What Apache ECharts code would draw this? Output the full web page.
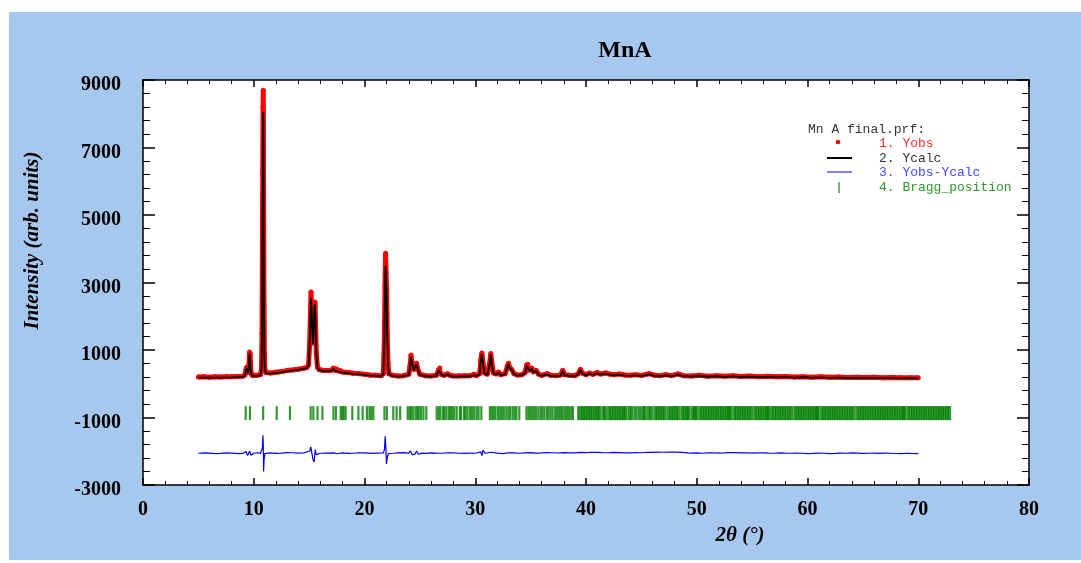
<!DOCTYPE html>
<html>
<head>
<meta charset="utf-8">
<script src="https://cdn.jsdelivr.net/npm/echarts@6/dist/echarts.min.js"></script>
<style>
  html, body { margin: 0; padding: 0; background: #fff; }
  #panel { position: absolute; left: 9px; top: 12px; width: 1072px; height: 548px; background: #a6c8ee; }
  #chart { position: absolute; left: 0; top: 0; width: 1081px; height: 563px; }
</style>
</head>
<body>
<div id="panel"></div>
<div id="chart"></div>
<script>
// observed profile, [2theta, intensity]
const yobs = [
  [5.0,200],[5.5,210],[6.0,195],[6.5,205],[7.0,200],[7.5,210],[8.0,205],[8.5,215],[9.0,225],[9.2,260],
  [9.3,420],[9.38,500],[9.45,330],[9.55,420],[9.62,940],[9.68,880],[9.75,330],[9.85,250],[10.0,240],[10.3,250],
  [10.6,270],[10.7,420],[10.75,1500],[10.78,3900],[10.81,6200],[10.84,8200],[10.86,8700],[10.88,7000],[10.9,4600],[10.93,2300],
  [10.96,900],[11.0,420],[11.1,330],[11.5,320],[12.0,340],[12.5,360],[13.0,390],[13.5,410],[14.0,430],[14.5,460],
  [14.8,480],[14.95,560],[15.05,1200],[15.12,2100],[15.17,2720],[15.22,2300],[15.3,1500],[15.36,1200],[15.42,1700],[15.48,2350],
  [15.53,2420],[15.58,1800],[15.65,900],[15.75,500],[15.9,420],[16.2,400],[16.6,390],[17.0,400],[17.2,470],[17.35,400],
  [17.5,440],[17.65,380],[17.8,390],[18.0,350],[18.3,340],[18.6,330],[19.0,310],[19.5,300],[20.0,280],[20.5,260],
  [21.0,250],[21.5,240],[21.7,300],[21.8,1400],[21.85,2900],[21.9,3870],[21.95,3300],[22.0,2800],[22.05,1500],[22.12,600],
  [22.2,300],[22.5,250],[23.0,230],[23.5,240],[24.0,280],[24.1,500],[24.2,850],[24.3,620],[24.45,420],[24.6,480],
  [24.7,610],[24.8,450],[25.0,280],[25.5,240],[26.0,230],[26.5,250],[26.7,420],[26.8,470],[26.95,280],[27.2,250],
  [27.5,300],[27.7,250],[28.0,230],[28.5,230],[29.0,240],[29.5,235],[29.9,280],[30.1,240],[30.4,300],[30.5,700],
  [30.6,910],[30.7,620],[30.85,320],[31.1,280],[31.3,600],[31.4,900],[31.5,600],[31.65,320],[31.9,290],[32.1,350],
  [32.3,270],[32.7,300],[32.9,520],[33.0,610],[33.1,480],[33.3,420],[33.5,300],[33.8,260],[34.2,270],[34.5,330],
  [34.65,560],[34.75,580],[34.9,400],[35.1,470],[35.25,350],[35.5,400],[35.7,290],[36.0,250],[36.5,300],[36.8,250],
  [37.3,240],[37.7,260],[37.9,400],[38.05,270],[38.5,250],[39.0,240],[39.3,300],[39.5,430],[39.65,320],[40.0,270],
  [40.3,320],[40.6,280],[41.0,330],[41.3,290],[41.8,320],[42.2,280],[42.6,270],[43.0,290],[43.5,260],[44.0,250],
  [44.5,270],[45.0,245],[45.7,300],[46.2,250],[46.7,240],[47.2,270],[47.7,240],[48.3,290],[48.8,240],[49.5,230],
  [50.2,250],[51.0,225],[51.8,240],[52.5,220],[53.3,235],[54.0,215],[54.8,230],[55.6,210],[56.4,225],[57.2,205],
  [58.0,215],[58.8,200],[59.6,210],[60.4,195],[61.2,205],[62.0,190],[62.8,200],[63.6,185],[64.4,195],[65.2,185],
  [66.0,190],[66.8,180],[67.6,185],[68.4,175],[69.2,180],[70.0,175]
];

// calculated profile
const ycalc = [
  [5.0,180],[6.0,180],[7.0,182],[8.0,188],[9.0,205],[9.2,240],[9.3,390],[9.38,470],[9.45,320],[9.55,400],
  [9.62,900],[9.68,860],[9.75,320],[9.85,235],[10.0,225],[10.3,232],[10.6,250],[10.7,400],[10.75,1450],[10.78,3800],
  [10.81,6000],[10.84,7900],[10.86,8050],[10.88,6800],[10.9,4500],[10.93,2250],[10.96,880],[11.0,400],[11.1,310],[11.5,300],
  [12.0,318],[12.5,340],[13.0,368],[13.5,390],[14.0,410],[14.5,438],[14.8,460],[14.95,540],[15.05,1150],[15.12,2000],
  [15.17,2550],[15.22,2250],[15.3,1480],[15.36,1180],[15.42,1650],[15.48,2250],[15.53,2350],[15.58,1750],[15.65,880],[15.75,480],
  [15.9,400],[16.2,380],[16.6,372],[17.0,380],[17.2,445],[17.35,380],[17.5,415],[17.65,360],[17.8,365],[18.0,330],
  [18.3,320],[18.6,310],[19.0,290],[19.5,280],[20.0,262],[20.5,242],[21.0,232],[21.5,222],[21.7,280],[21.8,1350],
  [21.85,2800],[21.9,3500],[21.95,3200],[22.0,2650],[22.05,1450],[22.12,580],[22.2,282],[22.5,232],[23.0,212],[23.5,222],
  [24.0,262],[24.1,470],[24.2,800],[24.3,600],[24.45,400],[24.6,455],[24.7,580],[24.8,430],[25.0,262],[25.5,222],
  [26.0,212],[26.5,232],[26.7,400],[26.8,445],[26.95,262],[27.2,232],[27.5,280],[27.7,232],[28.0,212],[28.5,212],
  [29.0,220],[29.5,215],[29.9,258],[30.1,222],[30.4,280],[30.5,670],[30.6,880],[30.7,600],[30.85,300],[31.1,262],
  [31.3,580],[31.4,870],[31.5,580],[31.65,300],[31.9,270],[32.1,330],[32.3,252],[32.7,280],[32.9,500],[33.0,585],
  [33.1,460],[33.3,400],[33.5,282],[33.8,242],[34.2,252],[34.5,310],[34.65,535],[34.75,560],[34.9,385],[35.1,450],
  [35.25,332],[35.5,380],[35.7,272],[36.0,232],[36.5,280],[36.8,232],[37.3,222],[37.7,242],[37.9,380],[38.05,252],
  [38.5,232],[39.0,222],[39.3,280],[39.5,410],[39.65,300],[40.0,250],[40.3,300],[40.6,262],[41.0,310],[41.3,272],
  [41.8,300],[42.2,262],[42.6,252],[43.0,270],[43.5,242],[44.0,232],[44.5,250],[45.0,228],[45.7,280],[46.2,232],
  [46.7,222],[47.2,250],[47.7,222],[48.3,268],[48.8,222],[49.5,212],[50.2,230],[51.0,208],[51.8,222],[52.5,202],
  [53.3,216],[54.0,198],[54.8,212],[55.6,194],[56.4,206],[57.2,188],[58.0,196],[58.8,184],[59.6,192],[60.4,178],
  [61.2,186],[62.0,174],[62.8,182],[63.6,170],[64.4,176],[65.2,168],[66.0,172],[66.8,164],[67.6,168],[68.4,160],
  [69.2,164],[70.0,160]
];

// Yobs-Ycalc, already shifted down as in the plot
const ydiff = [
  [5.0,-2060],[5.6,-2050],[6.0,-2055],[6.6,-2070],[7.0,-2065],[7.6,-2050],[8.0,-2055],[8.6,-2068],[9.0,-2065],[9.3,-2010],
  [9.45,-2130],[9.62,-1990],[9.75,-2120],[10.0,-2060],[10.3,-2045],[10.6,-2065],[10.78,-1900],[10.83,-1530],[10.86,-1800],[10.89,-2600],
  [10.93,-2250],[11.0,-2070],[11.5,-2050],[12.0,-2062],[12.5,-2055],[13.0,-2040],[13.5,-2045],[14.0,-2058],[14.5,-2050],[15.05,-2000],
  [15.15,-1870],[15.25,-1900],[15.35,-2250],[15.45,-2320],[15.55,-1950],[15.65,-2100],[16.0,-2060],[16.5,-2055],[17.2,-2050],[17.5,-2075],
  [18.0,-2050],[18.5,-2065],[19.0,-2060],[19.5,-2045],[20.0,-2050],[20.5,-2062],[21.0,-2055],[21.7,-2050],[21.8,-1950],[21.87,-1560],
  [21.93,-1900],[21.98,-2380],[22.05,-2200],[22.15,-2070],[22.6,-2060],[23.0,-2050],[23.5,-2040],[24.0,-2055],[24.15,-1990],[24.3,-2100],
  [24.55,-2090],[24.7,-1990],[24.85,-2090],[25.2,-2055],[25.6,-2065],[26.0,-2050],[26.5,-2058],[27.0,-2060],[27.5,-2045],[28.0,-2050],
  [28.5,-2060],[29.0,-2065],[29.5,-2055],[30.0,-2060],[30.5,-2020],[30.6,-2130],[30.7,-1970],[30.9,-2060],[31.4,-2030],[31.55,-2080],
  [32.0,-2055],[32.5,-2068],[33.0,-2045],[33.5,-2050],[34.0,-2060],[34.5,-2048],[35.0,-2040],[35.5,-2055],[36.0,-2050],[36.5,-2038],
  [37.0,-2045],[37.5,-2052],[38.0,-2040],[38.5,-2046],[39.0,-2050],[39.5,-2036],[40.0,-2040],[40.5,-2030],[41.0,-2035],[41.5,-2042],
  [42.0,-2045],[42.5,-2032],[43.0,-2040],[43.5,-2048],[44.0,-2050],[44.5,-2040],[45.0,-2045],[45.5,-2030],[46.0,-2035],[46.5,-2025],
  [47.0,-2030],[47.5,-2022],[48.0,-2025],[48.7,-2035],[49.2,-2050],[49.5,-2055],[50.0,-2048],[50.5,-2060],[51.0,-2050],[51.5,-2045],
  [52.0,-2055],[52.5,-2050],[53.0,-2042],[53.5,-2040],[54.0,-2050],[54.5,-2045],[55.0,-2055],[55.5,-2050],[56.0,-2046],[56.5,-2055],
  [57.0,-2060],[57.5,-2050],[58.0,-2056],[58.5,-2060],[59.0,-2052],[59.5,-2060],[60.0,-2068],[60.5,-2065],[61.0,-2058],[61.5,-2060],
  [62.0,-2070],[62.5,-2065],[63.0,-2058],[63.5,-2060],[64.0,-2050],[64.5,-2055],[65.0,-2062],[65.5,-2060],[66.0,-2055],[66.5,-2065],
  [67.0,-2058],[67.5,-2060],[68.0,-2066],[68.5,-2070],[69.0,-2060],[69.3,-2065],[70.0,-2070]
];

// Bragg reflection positions (2theta)
const braggPos = [
  9.27, 9.66, 10.85, 12.07, 13.27, 15.14, 15.38, 15.76, 16.2, 17.2, 17.42, 17.85, 18.0, 18.12, 18.3, 18.9, 19.45, 19.83,
  20.22, 20.45, 20.62, 20.8, 21.8, 22.02, 22.6, 22.9, 23.22, 23.9, 24.08, 24.22, 24.4, 24.62, 24.78, 24.9, 25.1, 25.32,
  25.58, 26.52, 26.7, 26.86, 27.1, 27.22, 27.4, 27.62, 27.78, 27.92, 28.1, 28.32, 28.6, 28.72, 28.98, 29.12, 29.3, 29.52,
  29.7, 29.9, 30.12, 30.3, 30.55, 31.32, 31.5, 31.66, 31.82, 32.04, 32.22, 32.4, 32.58, 32.8, 33.0, 33.16, 33.38, 33.56,
  33.72, 33.98, 34.62, 34.8, 34.96, 35.14, 35.32, 35.5, 35.7, 35.9, 36.06, 36.24, 36.46, 36.62, 36.8, 36.98, 37.2, 37.38,
  37.56, 37.74, 37.9, 38.1, 38.28, 38.46, 38.66, 38.82, 39.3,
  39.5, 39.72, 39.94, 40.16, 40.38, 40.6, 40.82, 41.04, 41.22, 41.56, 41.74, 42.08, 42.3, 42.52, 42.74, 42.96, 43.18,
  43.4, 43.56, 43.9, 44.12, 44.46, 44.8, 45.14, 45.32, 45.66, 45.88, 46.24, 46.46, 46.68, 46.9, 47.12, 47.46, 47.68,
  47.9, 48.12, 48.34, 48.68, 48.9, 49.12, 49.26, 49.6, 49.82, 49.96, 50.3, 50.52, 50.74, 50.96, 51.18, 51.4, 51.62,
  51.84, 52.06, 52.28, 52.5, 52.72, 52.9, 53.04, 53.38, 53.6, 53.82, 54.04, 54.26, 54.48, 54.7, 54.92, 55.26, 55.48,
  55.7, 55.92, 56.14, 56.36, 56.44, 56.78, 57.0, 57.22, 57.44, 57.66, 57.88, 58.1, 58.32, 58.54, 58.88, 59.1, 59.32,
  59.54, 59.76, 59.98, 60.2, 60.42, 60.64, 60.86, 60.94, 61.28, 61.5, 61.72, 61.94, 62.16, 62.38, 62.6, 62.82, 63.04,
  63.26, 63.48, 63.7, 63.92, 64.14, 64.48, 64.7, 64.92, 65.14, 65.36, 65.58, 65.8, 66.02, 66.24, 66.46, 66.68, 66.9,
  67.12, 67.34, 67.56, 67.78, 68.0, 68.22, 68.44, 68.66, 68.74, 69.08, 69.3, 69.52, 69.74, 69.96, 70.18, 70.4, 70.62,
  70.84, 71.06, 71.28, 71.5, 71.72, 71.94, 72.16, 72.38, 72.6, 72.8
];
const braggRowY = -870;

const serif = 'Liberation Serif';
const mono = 'Liberation Mono';

const chart = echarts.init(document.getElementById('chart'), null, { renderer: 'canvas' });

const axisBase = {
  axisLine: { onZero: false, lineStyle: { color: '#000', width: 1.5 } },
  axisTick: { inside: true, lineStyle: { color: '#000', width: 1.5 } },
  minorTick: { show: true, lineStyle: { color: '#000', width: 1 } },
  splitLine: { show: false }
};

chart.setOption({
  animation: false,
  title: {
    text: 'MnA',
    left: 620, top: 34, textAlign: 'center',
    textStyle: { fontFamily: serif, fontWeight: 'bold', fontSize: 24, color: '#000' }
  },
  grid: { left: 143, right: 52, top: 80, bottom: 78, show: true, backgroundColor: '#fff', borderWidth: 0 },
  xAxis: [{
    ...axisBase,
    type: 'value', min: 0, max: 80, interval: 10,
    axisTick: { ...axisBase.axisTick, length: 7 },
    minorTick: { ...axisBase.minorTick, splitNumber: 5, length: 4 },
    axisLabel: { fontFamily: serif, fontWeight: 'bold', fontSize: 20, color: '#000', margin: 15 },
    name: '2θ (°)', nameLocation: 'middle', nameGap: 40,
    nameTextStyle: { fontFamily: serif, fontStyle: 'italic', fontWeight: 'bold', fontSize: 21, color: '#000', padding: [0, 0, 0, 308] }
  }, {
    ...axisBase,
    type: 'value', min: 0, max: 80, interval: 10, position: 'top',
    axisTick: { ...axisBase.axisTick, length: 7 },
    minorTick: { ...axisBase.minorTick, splitNumber: 5, length: 4 },
    axisLabel: { show: false }
  }],
  yAxis: [{
    ...axisBase,
    type: 'value', min: -3000, max: 9000, interval: 2000,
    axisTick: { ...axisBase.axisTick, length: 12 },
    minorTick: { ...axisBase.minorTick, splitNumber: 5, length: 7 },
    axisLabel: {
      fontFamily: serif, fontWeight: 'bold', fontSize: 20, color: '#000', margin: 22,
      verticalAlign: 'top', lineHeight: 10,
      formatter: v => String(v)
    },
    name: 'Intensity (arb. units)', nameLocation: 'middle', nameGap: 100,
    nameTextStyle: { fontFamily: serif, fontStyle: 'italic', fontWeight: 'bold', fontSize: 21, color: '#000', padding: [0, 0, 0, 84] }
  }, {
    ...axisBase,
    type: 'value', min: -3000, max: 9000, interval: 2000, position: 'right',
    axisTick: { ...axisBase.axisTick, length: 12 },
    minorTick: { ...axisBase.minorTick, splitNumber: 5, length: 7 },
    axisLabel: { show: false }
  }],
  graphic: [
    { type: 'text', left: 808, top: 123, style: { text: 'Mn A final.prf:', font: '13px ' + mono, fill: '#333' } },
    { type: 'circle', shape: { cx: 838, cy: 142, r: 2.3 }, style: { fill: '#ff0000' } },
    { type: 'text', left: 879, top: 137, style: { text: '1. Yobs', font: '13px ' + mono, fill: '#ff3030' } },
    { type: 'line', shape: { x1: 827, y1: 158, x2: 852, y2: 158 }, style: { stroke: '#000', lineWidth: 2 } },
    { type: 'text', left: 879, top: 152, style: { text: '2. Ycalc', font: '13px ' + mono, fill: '#333' } },
    { type: 'line', shape: { x1: 827, y1: 172, x2: 852, y2: 172 }, style: { stroke: '#3030ff', lineWidth: 1.2 } },
    { type: 'text', left: 879, top: 166, style: { text: '3. Yobs-Ycalc', font: '13px ' + mono, fill: '#4848ff' } },
    { type: 'line', shape: { x1: 839, y1: 182, x2: 839, y2: 193 }, style: { stroke: '#2a9a2a', lineWidth: 1.4 } },
    { type: 'text', left: 879, top: 181, style: { text: '4. Bragg_position', font: '13px ' + mono, fill: '#2a9a2a' } }
  ],
  series: [
    {
      name: 'Yobs', type: 'line', data: yobs, z: 2,
      symbol: 'circle', symbolSize: 5, showSymbol: true,
      itemStyle: { color: '#ff0000' },
      lineStyle: { color: '#ff0000', width: 5 }
    },
    {
      name: 'Ycalc', type: 'line', data: ycalc, z: 3, showSymbol: false,
      lineStyle: { color: '#000', width: 1.8 }
    },
    {
      name: 'Yobs-Ycalc', type: 'line', data: ydiff, z: 3, showSymbol: false,
      lineStyle: { color: '#0000ff', width: 1.2 }
    },
    {
      name: 'Bragg_position', type: 'scatter', z: 2,
      data: braggPos.map(p => [p, braggRowY]),
      symbol: 'rect',
      // reflections crowd together at high angle, so draw them a little wider there
      symbolSize: v => (v[0] < 39.4 ? [2.2, 14] : [3.8, 14]),
      itemStyle: { color: '#008000' }
    }
  ]
});
</script>
</body>
</html>
